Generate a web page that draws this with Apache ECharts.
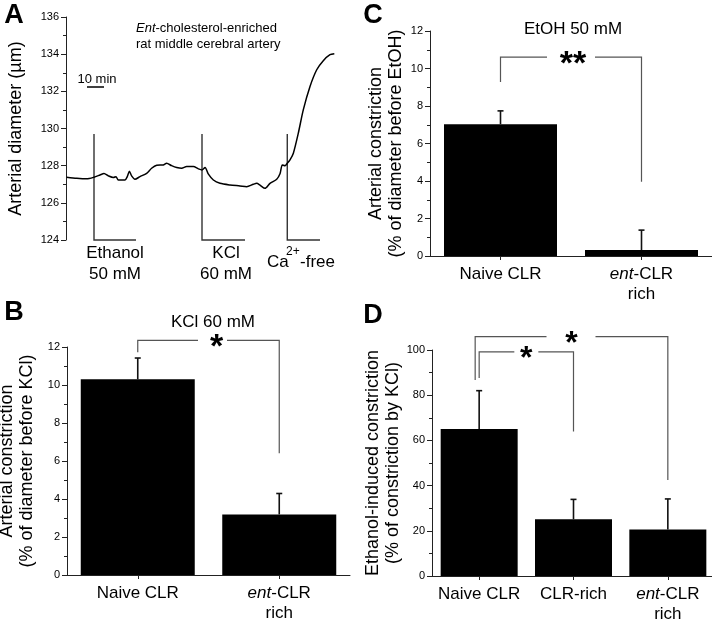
<!DOCTYPE html>
<html><head><meta charset="utf-8">
<script src="https://cdn.jsdelivr.net/npm/echarts@6/dist/echarts.min.js"></script>
<style>html,body{margin:0;padding:0;background:#fff}#c{width:712px;height:620px}</style>
</head><body><div id="c"></div><script>
const FONT = 'Liberation Sans, Arial, Helvetica, sans-serif';

// ---- Panel A: diameter trace (time in min, diameter in µm)
const traceTime = [0.4, 6.7, 12.9, 17.5, 21.25, 23.75, 26.5, 29.6, 31.25, 32.7, 36.9, 38.3, 39.6, 41, 43.1, 46.25, 50.4, 53.5, 56.7, 60.8, 62.9, 66, 69.2, 72.3, 75.4, 79.6, 82.7, 85, 86.9, 88.9, 92.1, 96.25, 102.5, 108.75, 112.9, 117.1, 119.2, 121.25, 124.4, 127.5, 131.7, 133.75, 135.2, 136.9, 138.3, 140, 142.1, 145.2, 148.3, 152.5, 156.7, 160.8, 165, 167.7];
const traceDiam = [127.38, 127.32, 127.29, 127.38, 127.5, 127.58, 127.45, 127.36, 127.41, 127.23, 127.23, 127.41, 127.7, 127.45, 127.27, 127.41, 127.59, 127.86, 128.02, 128.04, 128.13, 128.0, 127.9, 127.86, 127.95, 127.95, 127.83, 127.77, 127.9, 127.56, 127.23, 127.05, 126.96, 126.91, 126.87, 127.0, 127.05, 126.95, 126.78, 127.05, 127.27, 127.56, 128.04, 128.0, 128.13, 128.31, 128.67, 129.75, 131.0, 132.26, 133.16, 133.65, 133.97, 134.02];
const eventNames = ['Ethanol\n50 mM', 'KCl\n60 mM', 'Ca2+-free'];
const eventStart = [17.5, 85, 138.3];
const eventEnd = [43.75, 111.9, 158.75];
const eventTop = 129.7;

// ---- Panel B: KCl 60 mM
const catB = ['Naive CLR', 'ent-CLR\nrich'];
const meanB = [10.3, 3.19];
const errB = [1.12, 1.1];
// ---- Panel C: EtOH 50 mM
const catC = ['Naive CLR', 'ent-CLR\nrich'];
const meanC = [7.03, 0.32];
const errC = [0.71, 1.06];
// ---- Panel D
const catD = ['Naive CLR', 'CLR-rich', 'ent-CLR\nrich'];
const meanD = [65.0, 25.1, 20.6];
const errD = [17.0, 8.8, 13.5];

// significance brackets (category indices, value levels)
const sigB = [{from:0, to:1, top:12.35, left:11.72, right:6.41, label:'*'}];
const sigC = [{from:0, to:1, top:10.61, left:9.28, right:3.96, label:'**'}];
const sigD = [
  {from:0, to:2, top:105.9, left:86.7, right:42.5, label:'*'},
  {from:0, to:1, top:99.2, left:87.6, right:63.9, label:'*'}
];
// bracket drawing styles (pixels)
const sigStyleB = [{gap:[-10.5, 18.5], star:8, dx:0}];
const sigStyleC = [{gap:[-24, 24], star:2, dx:0}];
const sigStyleD = [{gap:[-25, 24], star:0, dx:-4}, {gap:[-12, 12], star:0, dx:0}];

const AX = '#222';
function yAx(gi, min, max, interval, name, nameGap) {
  return {
    type:'value', gridIndex:gi, min, max, interval, name,
    nameLocation:'middle', nameGap, nameRotate:90,
    nameTextStyle:{fontFamily:FONT, fontSize:18, lineHeight:20, color:'#000'},
    axisLine:{show:true, lineStyle:{color:AX, width:1}},
    axisTick:{show:true, length:5, lineStyle:{color:AX, width:1}},
    minorTick:{show:true, splitNumber:2, length:3, lineStyle:{color:AX, width:1}},
    splitLine:{show:false}, minorSplitLine:{show:false},
    axisLabel:{fontFamily:FONT, fontSize:11, color:'#000', margin:7}
  };
}
function xCat(gi, data) {
  return {
    type:'category', gridIndex:gi, data, boundaryGap:true,
    axisLine:{show:true, onZero:false, lineStyle:{color:AX, width:1}},
    axisTick:{show:true, alignWithLabel:true, length:4, lineStyle:{color:AX}},
    splitLine:{show:false},
    axisLabel:{fontFamily:FONT, fontSize:17, lineHeight:20, color:'#000', margin:8, interval:0,
      formatter: v => v.replace(/^ent/, '{i|ent}'),
      rich:{i:{fontFamily:FONT, fontSize:17, lineHeight:20, fontStyle:'italic', color:'#000'}}}
  };
}
function errSeries(xi, means, errs) {
  return {
    type:'custom', xAxisIndex:xi, yAxisIndex:xi, z:5,
    data: means.map((m,i)=>[i, m, errs[i]]),
    renderItem(params, api) {
      const i = api.value(0), m = api.value(1), e = api.value(2);
      const p0 = api.coord([i, m]), p1 = api.coord([i, m + e]);
      const st = {stroke:'#111', lineWidth:1.6};
      return {type:'group', children:[
        {type:'line', shape:{x1:p0[0], y1:p0[1], x2:p1[0], y2:p1[1]}, style:st},
        {type:'line', shape:{x1:p1[0]-3, y1:p1[1], x2:p1[0]+3, y2:p1[1]}, style:st}
      ]};
    }
  };
}
function sigSeries(xi, specs, styles, fs) {
  return {
    type:'custom', xAxisIndex:xi, yAxisIndex:xi, z:6, clip:false,
    data: specs.map((b)=>[b.from, b.top]),
    renderItem(params, api) {
      const b = specs[params.dataIndex], s = styles[params.dataIndex];
      const pA = api.coord([b.from, b.top]), pB = api.coord([b.to, b.top]);
      const xA = pA[0] + s.dx, xB = pB[0], y = pA[1];
      const yL = api.coord([b.from, b.left])[1], yR = api.coord([b.to, b.right])[1];
      const mid = (xA + xB) / 2;
      const st = {stroke:'#555', lineWidth:1.2, fill:null};
      return {type:'group', children:[
        {type:'polyline', shape:{points:[[xA,yL],[xA,y],[mid+s.gap[0],y]]}, style:st},
        {type:'polyline', shape:{points:[[mid+s.gap[1],y],[xB,y],[xB,yR]]}, style:st},
        {type:'text', x: mid + s.star, y: y + fs*0.22,
          style:{text:b.label, fontFamily:FONT, fontSize:fs, fontWeight:'bold', fill:'#000', align:'center', verticalAlign:'middle'}}
      ]};
    }
  };
}

const chart = echarts.init(document.getElementById('c'), null, {renderer:'canvas'});
function T(x, y, text, fs, opts) {
  return Object.assign({type:'text', x, y, silent:true,
    style:Object.assign({text, fontFamily:FONT, fontSize:fs, fill:'#000', align:'center', verticalAlign:'middle'}, (opts||{}).style||{})},
    (opts||{}).el||{});
}

const option = {
  animation:false,
  backgroundColor:'#fff',
  grid:[
    {left:66, top:17, width:272, height:223, outerBoundsMode:'none'},
    {left:67, top:347, width:283, height:228, outerBoundsMode:'none'},
    {left:430, top:31, width:282, height:225, outerBoundsMode:'none'},
    {left:432, top:350, width:283, height:226, outerBoundsMode:'none'}
  ],
  xAxis:[
    {type:'value', gridIndex:0, min:0, max:170, show:false},
    xCat(1, catB), xCat(2, catC), xCat(3, catD)
  ],
  yAxis:[
    yAx(0, 124, 136, 2, 'Arterial diameter (\u00b5m)', 40),
    yAx(1, 0, 12, 2, 'Arterial constriction\n(% of diameter before KCl)', 30),
    yAx(2, 0, 12, 2, 'Arterial constriction\n(% of diameter before EtOH)', 24),
    yAx(3, 0, 100, 20, 'Ethanol-induced constriction\n(% of constriction by KCl)', 26)
  ],
  series:[
    {type:'line', xAxisIndex:0, yAxisIndex:0, data: traceTime.map((t,i)=>[t, traceDiam[i]]),
      showSymbol:false, symbol:'none', smooth:0.25, lineStyle:{color:'#000', width:1.5}, z:3},
    {type:'custom', xAxisIndex:0, yAxisIndex:0, z:2,
      data: eventStart.map((t,i)=>[t, eventEnd[i]]),
      renderItem(params, api) {
        const t = api.value(0), e = api.value(1);
        const p0 = api.coord([t, eventTop]), p1 = api.coord([t, 124]), p2 = api.coord([e, 124]);
        return {type:'polyline', shape:{points:[p0, p1, p2]}, style:{stroke:'#333', lineWidth:1.4, fill:null}};
      }},
    {type:'bar', xAxisIndex:1, yAxisIndex:1, data:meanB, barWidth:114, itemStyle:{color:'#000'}},
    errSeries(1, meanB, errB), sigSeries(1, sigB, sigStyleB, 34),
    {type:'bar', xAxisIndex:2, yAxisIndex:2, data:meanC, barWidth:113, itemStyle:{color:'#000'}},
    errSeries(2, meanC, errC), sigSeries(2, sigC, sigStyleC, 34),
    {type:'bar', xAxisIndex:3, yAxisIndex:3, data:meanD, barWidth:77, itemStyle:{color:'#000'}},
    errSeries(3, meanD, errD), sigSeries(3, sigD, sigStyleD, 32)
  ],
  graphic:[
    T(14, 16, 'A', 27, {style:{fontWeight:'bold'}}),
    T(14, 313, 'B', 27, {style:{fontWeight:'bold'}}),
    T(373, 16, 'C', 27, {style:{fontWeight:'bold'}}),
    T(373, 316, 'D', 27, {style:{fontWeight:'bold'}}),
    T(136, 28, '{i|Ent}-cholesterol-enriched', 13, {style:{align:'left', rich:{i:{fontStyle:'italic', fontFamily:FONT, fontSize:13, fill:'#000'}}}}),
    T(136, 44, 'rat middle cerebral artery', 13, {style:{align:'left'}}),
    T(97, 79, '10 min', 13),
    {type:'line', silent:true, shape:{x1:87, y1:87, x2:104, y2:87}, style:{stroke:'#000', lineWidth:1.5}},
    T(115, 264, eventNames[0], 17, {style:{lineHeight:21}}),
    T(226, 264, eventNames[1], 17, {style:{lineHeight:21}}),
    T(267, 262, 'Ca', 17, {style:{align:'left'}}),
    T(286, 252, '2+', 12, {style:{align:'left'}}),
    T(300, 262, '-free', 17, {style:{align:'left'}}),
    T(213, 322, 'KCl 60 mM', 17),
    T(573, 29, 'EtOH 50 mM', 17)
  ]
};
chart.setOption(option);
</script></body></html>
